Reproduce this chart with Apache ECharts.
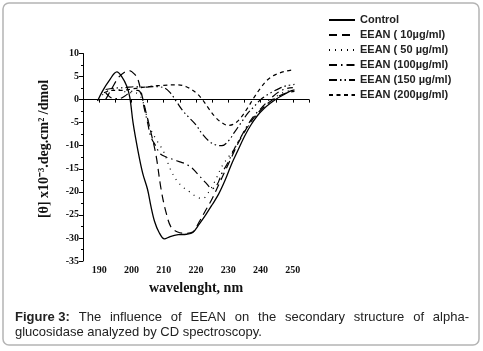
<!DOCTYPE html>
<html><head><meta charset="utf-8">
<script src="https://cdn.jsdelivr.net/npm/echarts@6/dist/echarts.min.js"></script>
<style>html,body{margin:0;padding:0;background:#fff}#c{width:483px;height:351px}</style>
</head><body><div id="c"></div>
<script>
const seriesNames = ['Control','EEAN ( 10µg/ml)','EEAN ( 50 µg/ml)','EEAN (100µg/ml)','EEAN (150 µg/ml)','EEAN (200µg/ml)'];
const xTicks = [190,200,210,220,230,240,250];
const control = [[189.5,-0.3],[191,1.8],[193,4],[195.5,6],[197,5],[198.5,3],[199.5,0.5],[200.5,-5],[202,-11],[203.5,-16],[205,-19.5],[206,-23],[207.2,-26.5],[208.5,-28.7],[210.2,-30.2],[212,-29.7],[214.5,-29.3],[217,-29.2],[219,-28.8],[221,-27],[223,-25],[225,-22.8],[227,-20.5],[229,-17.5],[231,-14],[233,-11],[235,-8],[237,-5.5],[239,-3.5],[241,-2],[243,-0.8],[245,0.2],[247,1],[249,1.8],[250.5,2.1]];
const eean10 = [[192,0],[194,2.5],[196,4.8],[198,6],[199.3,6.3],[201,5.5],[202,4.4],[203,1.7],[204.5,-2.7],[206,-7],[207.6,-12],[209.2,-19.5],[210.7,-24.4],[212.3,-27.7],[214.3,-28.7],[216.5,-29],[219,-28.7],[221,-26.5],[223,-24],[225,-21.5],[227,-18.5],[229,-15.5],[231,-12.5],[233,-9.5],[235,-7],[237,-4.8],[239,-3],[241,-1.6],[243,-0.4],[245,0.5],[247,1.2],[249,1.6],[250.5,1.8]];
const eean50 = [[191,1],[193,2],[195,2.3],[197,2],[199,1.5],[201,1.5],[203,0.5],[204.5,-3],[206,-6.5],[208,-9],[210,-11.3],[212,-15],[214,-17.5],[216,-19],[218,-20],[220,-21],[222,-21.5],[224,-20],[226,-17.5],[228,-14.5],[230,-12.5],[232,-10.5],[234,-8],[236,-6],[238,-4],[240,-2.5],[242,-1],[244,0.2],[246,1.2],[248,1.8],[250,2]];
const eean100 = [[192,1.5],[194,0.3],[196,0.2],[198,0.8],[200,1.8],[202,2],[203,1.2],[204,-2],[205,-5],[206,-8],[207.5,-10],[209,-11.8],[211,-12.5],[213,-13],[215,-13.5],[217,-14],[219,-15],[221,-16.5],[223,-18],[225,-19.3],[226.5,-18.5],[228,-16],[230,-13.5],[232,-10.5],[234,-8],[236,-5.5],[238,-3.5],[240,-2],[242,-0.5],[244,0.8],[246,1.8],[248,2.4],[250,2.6]];
const eean150 = [[192,2.2],[195,2.5],[198,2.6],[201,2.8],[204,2.7],[207,2.8],[210,2.6],[212,1.5],[214,-0.5],[216,-2.5],[218,-4],[220,-5.5],[222,-7.5],[224,-9],[226,-9.8],[228,-10],[230,-9],[232,-7],[234,-5],[236,-3],[238,-1.5],[240,0],[242,1],[244,1.8],[246,2.5],[248,3],[250.5,3.3]];
const eean200 = [[191.5,1.5],[194,2],[197,2],[200,2.3],[203,2.6],[206,2.9],[210,3.1],[214,3.2],[217,2.8],[220,1.5],[222,0],[224,-2],[226,-3.8],[228,-5],[230,-5.6],[232,-5.2],[234,-3.8],[236,-1.8],[238,0.5],[240,2.5],[242,4.2],[244,5.2],[246,5.8],[248,6.2],[250.5,6.5]];
const allData = [control, eean10, eean50, eean100, eean150, eean200];
const dashes = ['solid',[8,5],[1,5],[8,4,1.5,4],[8,3,1.5,3,1.5,3],[4,3.5]];
const captionLine1 = ['Figure 3:','The','influence','of','EEAN','on','the','secondary','structure','of','alpha-'];
const captionLine2 = 'glucosidase analyzed by CD spectroscopy.';

const serif = 'Liberation Serif';
const sans = 'Liberation Sans';
const chart = echarts.init(document.getElementById('c'), null, {renderer:'canvas'});

// justify caption line 1 between x=15 and x=469
const ctx = document.createElement('canvas').getContext('2d');
const fonts = captionLine1.map((w,i)=> (i===0?'bold ':'') + '13px "'+sans+'"');
const widths = captionLine1.map((w,i)=>{ctx.font = fonts[i]; return ctx.measureText(w).width;});
const total = widths.reduce((a,b)=>a+b,0);
const gap = (469 - 15 - total) / (captionLine1.length - 1);
const graphics = [
  {type:'rect', shape:{x:3,y:3,width:476,height:342,r:6}, style:{fill:'none',stroke:'#b4b4b4',lineWidth:1.5}, z:-1},
  {type:'text', x:44, y:149, rotation:Math.PI/2, style:{text:'[θ] x10⁻³.deg.cm² /dmol', font:'bold 14px "'+serif+'"', fill:'#111', align:'center', verticalAlign:'middle'}},
  {type:'text', x:15, y:332, style:{text:captionLine2, font:'13px "'+sans+'"', fill:'#222', verticalAlign:'middle'}}
];
let cx = 15;
captionLine1.forEach((w,i)=>{
  graphics.push({type:'text', x:cx, y:317, style:{text:w, font:fonts[i], fill:'#222', verticalAlign:'middle'}});
  cx += widths[i] + gap;
});

chart.setOption({
  animation:false,
  backgroundColor:'#fff',
  grid:{left:83, right:174, top:53.5, bottom:90, containLabel:false},
  legend:{
    orient:'vertical', left:328, top:14, padding:0, itemWidth:26, itemHeight:10, itemGap:3,
    itemStyle:{opacity:0, borderWidth:0},
    textStyle:{fontFamily:sans, fontWeight:'bold', fontSize:11, color:'#222', lineHeight:12},
    data:seriesNames
  },
  xAxis:{
    type:'value', min:185, max:255, interval:5,
    name:'wavelenght, nm', nameLocation:'middle', nameGap:20,
    nameTextStyle:{fontFamily:serif, fontWeight:'bold', fontSize:14, color:'#111'},
    axisLine:{lineStyle:{color:'#000',width:1}},
    axisTick:{inside:false,length:3,lineStyle:{color:'#000'}},
    axisLabel:{margin:4, fontFamily:serif, fontWeight:'bold', fontSize:10, color:'#111',
      formatter:v=> xTicks.indexOf(v)>=0 ? String(v) : ''},
    splitLine:{show:false}
  },
  yAxis:{
    type:'value', min:-35, max:10, interval:5,
    axisLine:{show:true,lineStyle:{color:'#000',width:1}},
    axisTick:{show:true,inside:false,length:4,lineStyle:{color:'#000'}},
    minorTick:{show:true,splitNumber:2,length:2,lineStyle:{color:'#000'}},
    axisLabel:{margin:4, fontFamily:serif, fontWeight:'bold', fontSize:10, color:'#111'},
    splitLine:{show:false}
  },
  graphic:graphics,
  series: allData.map((d,i)=>({
    name:seriesNames[i], type:'line', data:d, smooth:0.35, symbol:'none', showSymbol:false,
    lineStyle:{color:'#000', width:i===0?1.3:1.2, type:dashes[i]},
    itemStyle:{color:'#000'}
  }))
});
</script></body></html>
